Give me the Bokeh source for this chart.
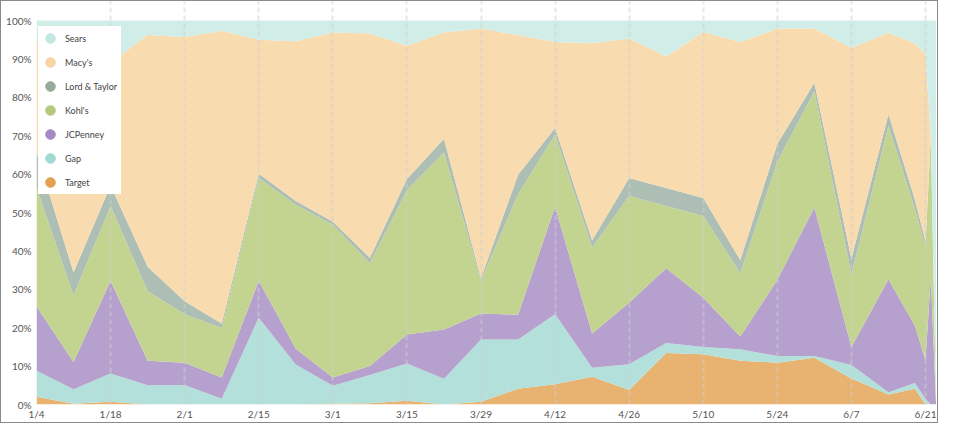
import pandas as pd
from bokeh.plotting import figure
from bokeh.models import (ColumnDataSource, Range1d, FixedTicker, Legend, LegendItem,
                          PrintfTickFormatter)
from bokeh.embed import file_html
from bokeh.resources import INLINE

# ---- data (share of mentions, %) ----
dates = ["1/4", "1/11", "1/18", "1/25", "2/1", "2/8", "2/15", "2/22", "3/1", "3/8",
         "3/15", "3/22", "3/29", "4/5", "4/12", "4/19", "4/26", "5/3", "5/10", "5/17",
         "5/24", "5/31", "6/7", "6/14", "6/19", "6/21", "6/22", "6/23"]
target = [2.0, 0.2, 0.7, 0.0, 0.0, 0.0, 0.0, 0.0, 0.2, 0.3,
          1.0, 0.0, 0.7, 4.1, 5.3, 7.2, 3.8, 13.4, 13.1, 11.4,
          10.9, 12.2, 6.8, 2.6, 4.1, 0.0, 0.0, 0.0]
gap = [6.8, 3.8, 7.4, 5.0, 5.1, 1.5, 22.6, 10.4, 4.7, 7.4,
       9.7, 6.7, 16.2, 12.8, 18.2, 2.4, 6.7, 2.6, 1.9, 3.0,
       1.7, 0.4, 3.5, 0.6, 1.5, 1.5, 0.0, 0.0]
jcpenney = [16.8, 7.1, 24.1, 6.4, 5.8, 5.5, 9.6, 4.1, 2.1, 2.3,
            7.5, 12.8, 6.8, 6.5, 28.0, 8.9, 16.0, 19.5, 12.8, 3.3,
            19.9, 38.7, 4.7, 29.4, 14.9, 10.0, 33.3, 0.0]
kohls = [30.9, 17.3, 19.5, 18.1, 12.6, 12.9, 26.8, 37.5, 39.8, 26.8,
         37.5, 46.1, 8.6, 31.3, 18.8, 22.4, 27.8, 16.2, 21.3, 16.5,
         30.7, 30.3, 18.8, 40.0, 30.5, 29.5, 36.4, 0.0]
lord_taylor = [9.1, 6.0, 5.3, 6.4, 3.4, 1.2, 1.1, 1.0, 0.8, 1.4,
               3.0, 3.6, 0.6, 5.1, 1.7, 1.8, 4.7, 4.7, 4.7, 3.4,
               4.7, 2.2, 4.2, 3.0, 2.3, 1.5, 0.0, 0.0]
macys = [28.9, 57.6, 32.0, 60.3, 68.8, 76.2, 34.9, 41.6, 49.3, 58.4,
         34.7, 27.7, 65.0, 36.4, 22.4, 51.4, 36.3, 34.2, 43.2, 56.8,
         30.0, 14.1, 54.9, 21.2, 40.7, 49.0, 0.3, 0.0]
sears = [5.5, 8.0, 11.0, 3.8, 4.3, 2.7, 5.0, 5.4, 3.1, 3.4,
         6.6, 3.1, 2.1, 3.8, 5.6, 5.9, 4.7, 9.4, 3.0, 5.6,
         2.1, 2.1, 7.1, 3.2, 6.0, 8.5, 30.0, 100.0]

stores = ["Target", "Gap", "JCPenney", "Kohl's", "Lord & Taylor", "Macy's", "Sears"]
tick_labels = ["1/4", "1/18", "2/1", "2/15", "3/1", "3/15", "3/29", "4/12", "4/26",
               "5/10", "5/24", "6/7", "6/21"]

area_colors = ["#e8b271", "#b3e0da", "#b6a0cd", "#c3d490", "#adbfb4", "#f9dbb0", "#d1ede8"]
dot_colors = ["#e3a04f", "#a1d9d3", "#a688c4", "#b5c97c", "#97ab9b", "#f8d3a3", "#c3e8e2"]

FONT = "Lato"


def day_offset(s):
    t = pd.to_datetime("2015/" + s, format="%Y/%m/%d")
    return (t - pd.Timestamp(2015, 1, 4)).days


x = [day_offset(d) for d in dates]
keys = ["target", "gap", "jcpenney", "kohls", "lord_taylor", "macys", "sears"]
source = ColumnDataSource(dict(x=x, target=target, gap=gap, jcpenney=jcpenney, kohls=kohls,
                               lord_taylor=lord_taylor, macys=macys, sears=sears))

# layout geometry (pixels)
frame_left = 35
frame_w = 901
frame_h = 403
px_per_day = (925 - 36) / 168.0
px_per_pct = 3.84
x_end = frame_w / px_per_day
y_end = frame_h / px_per_pct

p = figure(frame_width=frame_w, frame_height=frame_h, output_backend="svg",
           toolbar_location=None,
           x_range=Range1d(0, x_end), y_range=Range1d(0, y_end),
           min_border_left=frame_left, min_border_right=0, min_border_top=0,
           min_border_bottom=17, background_fill_color="white",
           border_fill_color="white", outline_line_color=None)
p.styles = {"border": "1px solid #8a8a8a"}

p.varea_stack(stackers=keys, x="x", color=area_colors, source=source)

# legend dots (not drawn in the plot area: NaN position)
dots = []
for c in dot_colors:
    dots.append(p.scatter(x=[float("nan")], y=[float("nan")], size=12,
                          fill_color=c, line_color=c, marker="circle"))

items = [LegendItem(label=stores[i], renderers=[dots[i]]) for i in range(6, -1, -1)]
legend_h = 7 * 24 + 2 * 2
legend = Legend(items=items, location=(2, frame_h - 21 - legend_h), padding=2, spacing=0,
                glyph_width=24, glyph_height=24, label_standoff=3, label_width=56,
                label_height=24, label_text_font_size="9px", label_text_color="#444444",
                label_text_font=FONT, border_line_color=None, background_fill_color="white",
                background_fill_alpha=1.0, margin=0)
p.add_layout(legend)

# axes
tick_pos = [day_offset(t) for t in tick_labels]
p.xaxis.ticker = FixedTicker(ticks=tick_pos)
p.xaxis.major_label_overrides = {tp: lab for tp, lab in zip(tick_pos, tick_labels)}
p.yaxis.ticker = FixedTicker(ticks=list(range(0, 101, 10)))
p.yaxis.formatter = PrintfTickFormatter(format="%d%%")
for ax in (p.xaxis, p.yaxis):
    ax.axis_line_color = None
    ax.major_tick_line_color = None
    ax.minor_tick_line_color = None
    ax.major_tick_out = 0
    ax.major_tick_in = 0
    ax.minor_tick_out = 0
    ax.minor_tick_in = 0
    ax.major_label_text_font_size = "10px"
    ax.major_label_text_color = "#555555"
    ax.major_label_text_font = FONT
p.yaxis.major_label_standoff = 5
p.xaxis.major_label_standoff = 3

p.ygrid.visible = False
p.xgrid.grid_line_color = "#cfcfcf"
p.xgrid.grid_line_alpha = 0.5
p.xgrid.grid_line_width = 2
p.xgrid.grid_line_dash = "5 3"
p.xgrid.level = "guide"

open("out.html", "w").write(file_html(p, INLINE))
